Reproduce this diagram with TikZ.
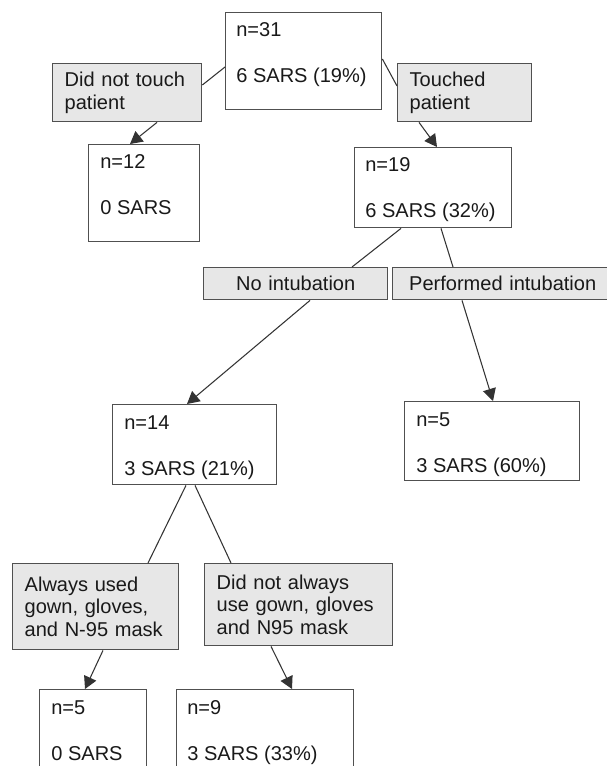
\documentclass[tikz,border=0pt]{standalone}
\usepackage{fontspec}
\setmainfont{Liberation Sans}
\usetikzlibrary{arrows.meta}

\definecolor{boxgray}{RGB}{231,231,231}
\definecolor{edgegray}{RGB}{80,80,80}

\begin{document}
\begin{tikzpicture}[x=0.02cm, y=-0.02cm, font=\fontsize{11.4}{13}\selectfont, text=black!90,
	stat/.style={draw=edgegray, line width=0.8pt, anchor=north west, inner sep=0},
	choice/.style={stat, fill=boxgray, align=left, inner xsep=0.24cm, inner ysep=0},
	txt/.style={anchor=base west, inner sep=0},
	link/.style={draw=black!80, line width=0.6pt},
	arr/.style={link, -{Triangle[length=7pt,width=7.5pt]}}]
					\useasboundingbox (0,0) rectangle (607,766);
					\clip (0,0) rectangle (607,766);
					\fill[white] (0,0) rectangle (607,766);
					
					% boxes with counts
					\node[stat, minimum width=3.12cm, minimum height=1.94cm] (N31) at (225,12) {};
					\node[stat, minimum width=2.22cm, minimum height=1.94cm] (N12) at (88,144) {};
					\node[stat, minimum width=3.14cm, minimum height=1.6cm] (N19) at (354,147) {};
					\node[stat, minimum width=3.28cm, minimum height=1.6cm] (N14) at (112,404) {};
					\node[stat, minimum width=3.5cm, minimum height=1.58cm] (N5a) at (404,401) {};
					\node[stat, minimum width=2.14cm, minimum height=1.8cm] (N5b) at (39,689) {};
					\node[stat, minimum width=3.54cm, minimum height=1.8cm] (N9) at (176,689) {};
					
					\node[txt] (N31a) at (236,37) {n=31};
					\node[txt] (N31b) at (236,83) {6 SARS (19\%)};
					\node[txt] (N12a) at (100,169) {n=12};
					\node[txt] (N12b) at (100,215) {0 SARS};
					\node[txt] (N19a) at (365,172) {n=19};
					\node[txt] (N19b) at (365,218) {6 SARS (32\%)};
					\node[txt] (N14a) at (124,429) {n=14};
					\node[txt] (N14b) at (124,475) {3 SARS (21\%)};
					\node[txt] (N5aa) at (416,426) {n=5};
					\node[txt] (N5ab) at (416,472) {3 SARS (60\%)};
					\node[txt] (N5ba) at (51,714) {n=5};
					\node[txt] (N5bb) at (51,760) {0 SARS};
					\node[txt] (N9a) at (187,714) {n=9};
					\node[txt] (N9b) at (187,760) {3 SARS (33\%)};
					
					% grey boxes
					\node[choice, text width=2.5cm, minimum height=1.16cm] (Dnt) at (52,63) {Did not touch\\patient};
					\node[choice, text width=2.2cm, minimum height=1.16cm] (Tch) at (397,63) {Touched\\patient};
					\node[choice, align=center, text width=3.2cm, minimum height=0.64cm] (NoI) at (203,267) {No intubation};
					\node[choice, align=center, text width=3.92cm, minimum height=0.64cm] (PfI) at (392,267) {Performed intubation};
					\node[choice, text width=2.84cm, minimum height=1.72cm] (Alw) at (12,563) {Always used\\gown, gloves,\\and N-95 mask};
					\node[choice, text width=3.28cm, minimum height=1.64cm] (Nal) at (204,563) {Did not always\\use gown, gloves\\and N95 mask};
					
					\draw[link] (N31.west |- 0,67) -- (Dnt.east |- 0,85);
					\draw[link] (N31.east |- 0,59) -- (Tch.west |- 0,86);
					\draw[arr] (Dnt.south -| 157,0) -- (N12.north -| 130,0);
					\draw[arr] (Tch.south -| 419,0) -- (N19.north -| 437,0);
					\draw[link] (N19.south -| 401,0) -- (NoI.north -| 352,0);
					\draw[link] (N19.south -| 441,0) -- (PfI.north -| 453,0);
					\draw[arr] (NoI.south -| 310,0) -- (N14.north -| 187,0);
					\draw[arr] (PfI.south -| 462,0) -- (N5a.north -| 493,0);
					\draw[link] (N14.south -| 186,0) -- (Alw.north -| 148,0);
					\draw[link] (N14.south -| 195,0) -- (Nal.north -| 231,0);
					\draw[arr] (Alw.south -| 103,0) -- (N5b.north -| 85,0);
					\draw[arr] (Nal.south -| 271,0) -- (N9.north -| 292,0);
				\end{tikzpicture}
\end{document}
